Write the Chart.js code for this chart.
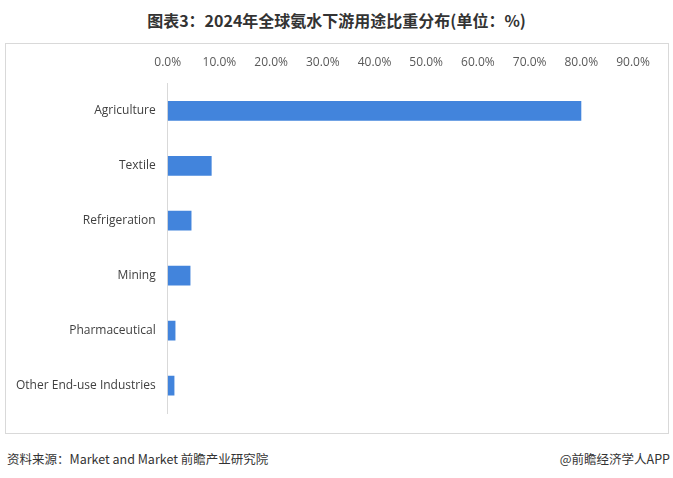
<!DOCTYPE html>
<html>
<head>
<meta charset="utf-8">
<script src="https://cdn.jsdelivr.net/npm/chart.js@4.4.1/dist/chart.umd.min.js"></script>
<style>
  body { margin: 0; width: 673px; height: 478px; background: #fff; position: relative; font-family: "Noto Sans CJK SC", sans-serif; }
  #title { position: absolute; left: 0; top: 8px; width: 673px; text-align: center; font-size: 16px; font-weight: bold; color: #333; }
  #box { position: absolute; left: 5px; top: 43px; width: 662px; height: 389px; border: 1px solid #d9d9d9; }
  #source { position: absolute; left: 7px; top: 449px; font-size: 12.5px; color: #333; }
  #brand { position: absolute; right: 3px; top: 449px; font-size: 12.5px; color: #333; }
</style>
</head>
<body>
<div id="title">图表3：2024年全球氨水下游用途比重分布(单位：%)</div>
<div id="box"><canvas id="usechart"></canvas></div>
<div id="source">资料来源：Market and Market 前瞻产业研究院</div>
<div id="brand">@前瞻经济学人APP</div>
<script>
var categories = ["Agriculture", "Textile", "Refrigeration", "Mining", "Pharmaceutical", "Other End-use Industries"];
var shares = [80.0, 8.5, 4.6, 4.4, 1.5, 1.3];
var tickValues = [0, 10, 20, 30, 40, 50, 60, 70, 80, 90];

var canvasElement = document.getElementById("usechart");
var config = {
    type: "bar",
    data: {
        labels: categories,
        datasets: [{
            label: "share",
            data: shares,
            backgroundColor: "#4284DC",
            categoryPercentage: 1,
            barPercentage: 0.36
        }]
    },
    options: {
        indexAxis: "y",
        responsive: true,
        maintainAspectRatio: false,
        animation: false,
        layout: { padding: { left: 6, right: 35, top: 5, bottom: 20 } },
        plugins: { legend: { display: false }, tooltip: { enabled: false } },
        scales: {
            x: {
                position: "top",
                min: 0,
                max: 90,
                afterBuildTicks: function (axis) {
                    axis.ticks = tickValues.map(function (v) { return { value: v }; });
                },
                grid: { display: false },
                border: { display: false },
                ticks: {
                    color: "#595959",
                    font: { family: "Open Sans", size: 12 },
                    padding: 6,
                    maxRotation: 0,
                    callback: function (v) { return v.toFixed(1) + "%"; }
                }
            },
            y: {
                grid: { display: false },
                border: { display: true, color: "#d9d9d9", width: 1 },
                ticks: {
                    color: "#404040",
                    font: { family: "Open Sans", size: 12 },
                    padding: 4
                }
            }
        }
    }
};
var usechart = new Chart(canvasElement, config);
</script>
</body>
</html>
